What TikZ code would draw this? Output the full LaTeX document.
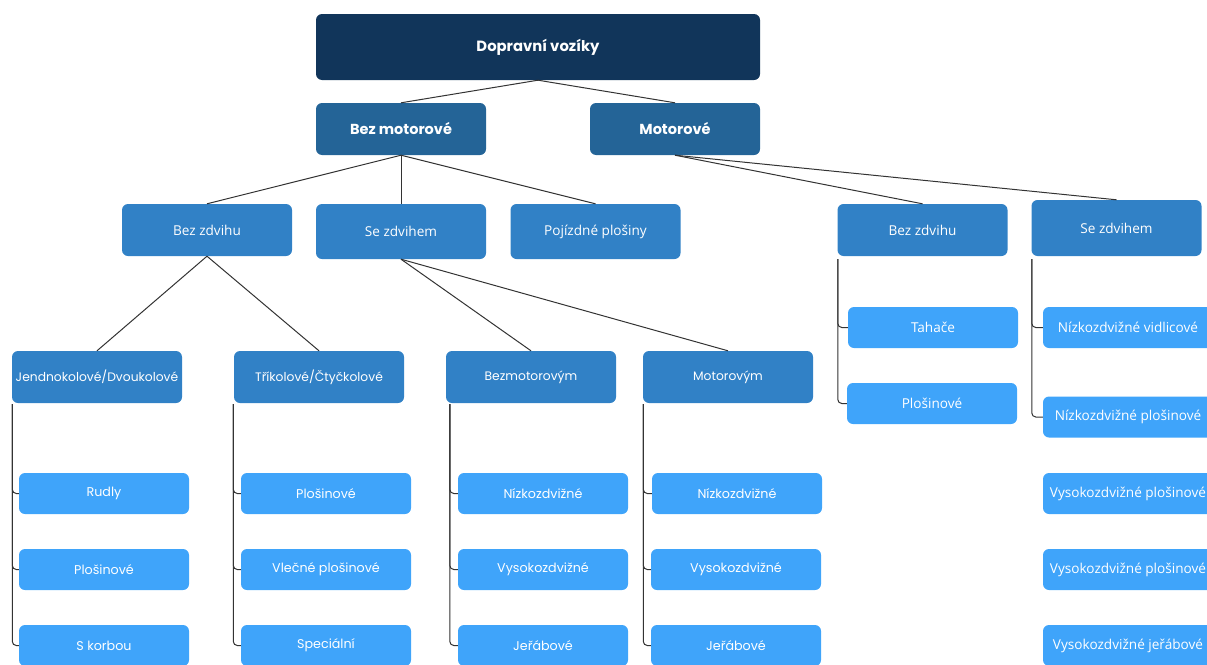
\documentclass[tikz,border=0pt]{standalone}
\usepackage{fontspec}
\setmainfont{Poppins}
\newfontfamily\interlike{Open Sans}
\definecolor{rootc}{HTML}{11355A}
\definecolor{lvlone}{HTML}{246497}
\definecolor{lvltwo}{HTML}{3181C6}
\definecolor{lvlfour}{HTML}{3FA4FA}
\definecolor{linec}{HTML}{333333}
\tikzset{
  box/.style={rectangle, rounded corners=6pt, inner sep=0pt, text=white, align=center},
  rootbox/.style={box, fill=rootc, minimum width=444pt, minimum height=66pt, font=\fontsize{14.8}{17}\selectfont\bfseries},
  onebox/.style={box, fill=lvlone, minimum width=170pt, minimum height=52pt, font=\fontsize{14.5}{17}\selectfont\bfseries},
  twobox/.style={box, fill=lvltwo, minimum width=170pt, minimum height=52pt, font=\fontsize{12.3}{15}\selectfont},
  leafbox/.style={box, fill=lvlfour, minimum width=170pt, minimum height=41pt, font=\fontsize{12.7}{15}\selectfont},
  iface/.style={font=\interlike\fontsize{13.6}{16}\selectfont},
  conn/.style={draw=linec, line width=1pt},
  elbow/.style={draw=linec, line width=1pt, rounded corners=4pt}
}
\begin{document}
\begin{tikzpicture}[x=1pt,y=-1pt]
\useasboundingbox (0,0) rectangle (1207,664);
\clip (0,0) rectangle (1207,664);
% nodes
\node[rootbox] (root) at (538,47) {Dopravní vozíky};
\node[onebox] (bm) at (401,129) {Bez motorové};
\node[onebox] (mo) at (675,129) {Motorové};
\node[twobox, iface] (bzA) at (207,230) {Bez zdvihu};
\node[twobox, iface, minimum height=55pt] (szA) at (401,231.5) {Se zdvihem};
\node[twobox, iface, minimum height=55pt] (pp) at (595.5,231.5) {Pojízdné plošiny};
\node[twobox, iface] (bzB) at (922.5,230) {Bez zdvihu};
\node[twobox, iface, minimum height=56pt] (szB) at (1116.5,228) {Se zdvihem};
\node[twobox] (jd) at (97,377) {Jendnokolové/Dvoukolové};
\node[twobox] (tc) at (319,377) {Tříkolové/Čtyčkolové};
\node[twobox] (bmy) at (531,377) {Bezmotorovým};
\node[twobox] (my) at (728,377) {Motorovým};
% column 1
\node[leafbox] (a1) at (104,493.5) {Rudly};
\node[leafbox] (a2) at (104,569.5) {Plošinové};
\node[leafbox] (a3) at (104,645.5) {S korbou};
% column 2
\node[leafbox] (b1) at (326,493.5) {Plošinové};
\node[leafbox] (b2) at (326,569.5) {Vlečné plošinové};
\node[leafbox] (b3) at (326,645.5) {Speciální};
% column 3
\node[leafbox] (c1) at (543,493.5) {Nízkozdvižné};
\node[leafbox] (c2) at (543,569.5) {Vysokozdvižné};
\node[leafbox] (c3) at (543,645.5) {Jeřábové};
% column 4
\node[leafbox] (d1) at (737,493.5) {Nízkozdvižné};
\node[leafbox] (d2) at (736,569.5) {Vysokozdvižné};
\node[leafbox] (d3) at (736,645.5) {Jeřábové};
% right: bez zdvihu
\node[leafbox, iface] (e1) at (933,327.5) {Tahače};
\node[leafbox, iface] (e2) at (932,403.5) {Plošinové};
% right: se zdvihem
\node[leafbox, iface] (f1) at (1128,327.5) {Nízkozdvižné vidlicové};
\node[leafbox, iface] (f2) at (1128,417) {Nízkozdvižné plošinové};
\node[leafbox, iface] (f3) at (1128,493.5) {Vysokozdvižné plošinové};
\node[leafbox, iface] (f4) at (1128,569.5) {Vysokozdvižné plošinové};
\node[leafbox, iface] (f5) at (1128,645.5) {Vysokozdvižné jeřábové};
% connectors
\draw[conn] (root.south) -- (bm.north);
\draw[conn] (root.south) -- (mo.north);
\draw[conn] (bm.south) -- (bzA.north);
\draw[conn] (bm.south) -- (szA.north);
\draw[conn] (bm.south) -- (pp.north);
\draw[conn] (mo.south) -- (bzB.north);
\draw[conn] (mo.south) -- (szB.north);
\draw[conn] (bzA.south) -- (jd.north);
\draw[conn] (bzA.south) -- (tc.north);
\draw[conn] (szA.south) -- (bmy.north);
\draw[conn] (szA.south) -- (my.north);
% elbows
\foreach \c in {a1,a2,a3} {\draw[elbow] ([xshift=0.5pt,yshift=-1pt]jd.south west) |- (\c.west);}
\foreach \c in {b1,b2,b3} {\draw[elbow] ([xshift=-0.5pt,yshift=-1pt]tc.south west) |- (\c.west);}
\foreach \c in {c1,c2,c3} {\draw[elbow] ([xshift=4pt,yshift=-1pt]bmy.south west) |- (\c.west);}
\foreach \c in {d1,d2,d3} {\draw[elbow] ([xshift=0.5pt,yshift=-1pt]my.south west) |- (\c.west);}
\foreach \c in {e1,e2} {\draw[elbow] ([xshift=0.5pt,yshift=-3pt]bzB.south west) |- (\c.west);}
\foreach \c in {f1,f2} {\draw[elbow] ([xshift=0.5pt,yshift=-3pt]szB.south west) |- (\c.west);}
\end{tikzpicture}
\end{document}
